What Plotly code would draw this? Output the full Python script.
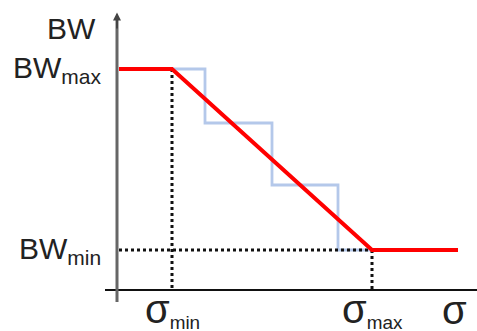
import plotly.graph_objects as go

# ---- data (abstract units: sigma horizontally, BW vertically) ----
sigma_min = 1.1
sigma_max = 5.1
sigma_start = 0.04
sigma_end = 6.82
bw_max = 4.42
bw_min = 0.8

red_sigma = [sigma_start, sigma_min, sigma_max, sigma_end]
red_bw = [bw_max, bw_max, bw_min, bw_min]

step_sigma = [1.1, 1.76, 1.76, 3.1, 3.1, 4.42, 4.42, 5.1]
step_bw = [4.42, 4.42, 3.34, 3.34, 2.1, 2.1, 0.8, 0.8]

y_labels = ["BW", "BW<sub>max</sub>", "BW<sub>min</sub>"]
SIG = "<span style='font-size:40px'>σ</span>"
x_labels = [SIG + "<sub>min</sub>", SIG + "<sub>max</sub>", SIG]

X_RANGE = [-2.34, 7.2]
Y_RANGE = [-0.82, 5.8]

fig = go.Figure()

# staircase (light blue)
fig.add_trace(go.Scatter(x=step_sigma, y=step_bw, mode="lines",
                         line=dict(color="#b4c8ea", width=2.8), hoverinfo="skip"))
# dotted guides
dot = dict(color="#111111", width=3, dash="dot")
fig.add_trace(go.Scatter(x=[sigma_min, sigma_min], y=[bw_max, 0], mode="lines",
                         line=dot, hoverinfo="skip"))
fig.add_trace(go.Scatter(x=[sigma_start, sigma_max], y=[bw_min, bw_min], mode="lines",
                         line=dot, hoverinfo="skip"))
fig.add_trace(go.Scatter(x=[sigma_max, sigma_max], y=[bw_min, 0], mode="lines",
                         line=dot, hoverinfo="skip"))
# red piecewise line
fig.add_trace(go.Scatter(x=red_sigma, y=red_bw, mode="lines",
                         line=dict(color="#ff0000", width=4), hoverinfo="skip"))

# axes
fig.add_shape(type="line", x0=-0.24, x1=X_RANGE[1], y0=0, y1=0,
              line=dict(color="#111111", width=2))
fig.add_shape(type="line", x0=0, x1=0, y0=-0.24, y1=5.45,
              line=dict(color="#666666", width=3))
fig.add_annotation(x=0, y=5.55, ax=0, ay=5.2, xref="x", yref="y", axref="x", ayref="y",
                   showarrow=True, arrowhead=2, arrowsize=0.8, arrowwidth=2,
                   arrowcolor="#444444", text="")

font = dict(family="Liberation Sans, Arial", size=30, color="#222222")
xfont = dict(family="Liberation Sans, Arial", size=27, color="#222222")

fig.add_annotation(x=-0.38, y=5.24, text=y_labels[0], showarrow=False,
                   xanchor="right", yanchor="middle", font=font)
fig.add_annotation(x=-0.26, y=bw_max, text=y_labels[1], showarrow=False,
                   xanchor="right", yanchor="middle", font=font)
fig.add_annotation(x=-0.28, y=bw_min, text=y_labels[2], showarrow=False,
                   xanchor="right", yanchor="middle", font=font)

fig.add_annotation(x=sigma_min - 0.58, y=-0.4, text=x_labels[0], showarrow=False,
                   xanchor="left", yanchor="middle", font=xfont)
fig.add_annotation(x=sigma_max - 0.64, y=-0.4, text=x_labels[1], showarrow=False,
                   xanchor="left", yanchor="middle", font=xfont)
fig.add_annotation(x=6.46, y=-0.4, text=x_labels[2], showarrow=False,
                   xanchor="left", yanchor="middle", font=xfont)

fig.update_layout(
    width=477, height=331,
    margin=dict(l=0, r=0, t=0, b=0),
    paper_bgcolor="white", plot_bgcolor="white",
    showlegend=False,
    xaxis=dict(range=X_RANGE, visible=False, fixedrange=True),
    yaxis=dict(range=Y_RANGE, visible=False, fixedrange=True),
)

fig.write_html("out.html")
